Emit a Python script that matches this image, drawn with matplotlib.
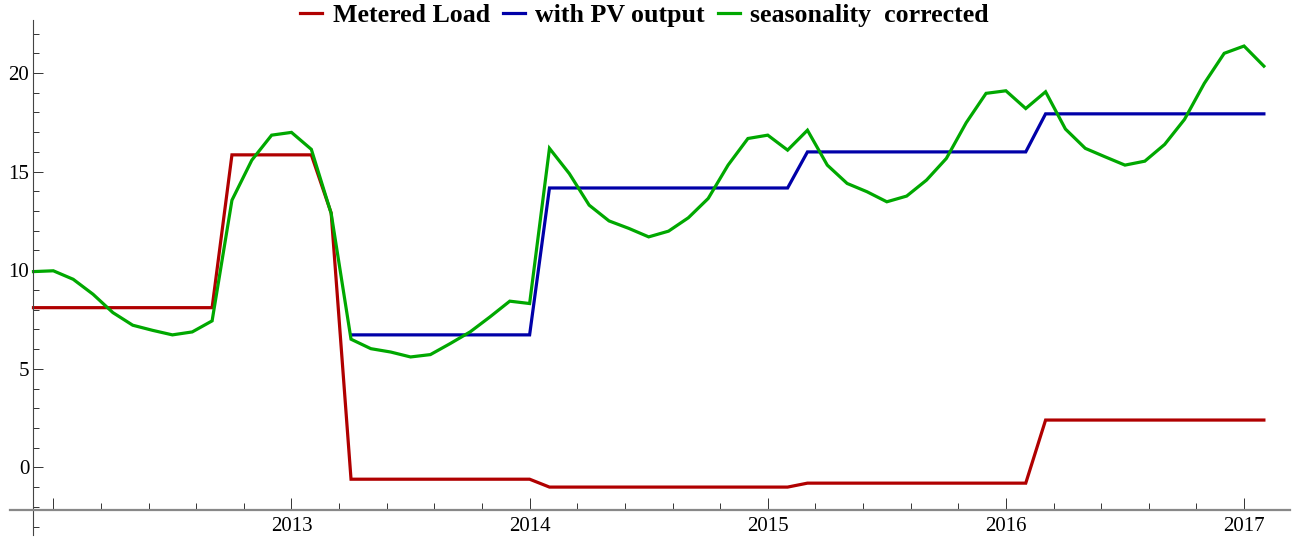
import numpy as np
import pandas as pd
import matplotlib
matplotlib.use("Agg")
import matplotlib.pyplot as plt
from matplotlib.ticker import FixedLocator, MultipleLocator

# monthly series, Dec 2011 .. Feb 2017
months = pd.date_range("2011-12-01", periods=63, freq="MS")
x = months.year + (months.month - 1) / 12.0

metered = ([8.1] * 10 + [15.85] * 5 + [12.9] + [-0.6] * 10 + [-1.0] * 13
           + [-0.8] * 12 + [2.4] * 12)
with_pv = ([np.nan] * 16 + [6.72] * 10 + [14.17] * 13 + [16.0] * 12
           + [17.93] * 12)
seasonal = [9.93, 9.97, 9.54, 8.78, 7.85, 7.21, 6.95, 6.72, 6.87, 7.43,
            13.55, 15.58, 16.85, 16.99, 16.13, 12.88, 6.5, 6.02, 5.85, 5.6,
            5.72, 6.28, 6.87, 7.63, 8.43, 8.31, 16.18, 14.9, 13.3, 12.5,
            12.12, 11.69, 11.98, 12.66, 13.64, 15.33, 16.68, 16.85, 16.09,
            17.1, 15.33, 14.4, 13.98, 13.47, 13.76, 14.57, 15.67, 17.48,
            18.97, 19.1, 18.2, 19.05, 17.16, 16.18, 15.75, 15.33, 15.53,
            16.38, 17.65, 19.48, 21.0, 21.37, 20.35]

labels = ["Metered Load", "with PV output", "seasonality  corrected"]
colors = ["#b00000", "#0000a8", "#00a800"]

year_ticks = [2012, 2013, 2014, 2015, 2016, 2017]
year_labels = ["", "2013", "2014", "2015", "2016", "2017"]

W, H = 1308, 538
fig = plt.figure(figsize=(W / 100, H / 100), dpi=100)
ax = fig.add_axes([10 / W, 3 / H, 1280 / W, 515 / H])

for vals, c, lab in zip([metered, with_pv, seasonal], colors, labels):
    ax.plot(x, vals, color=c, lw=2.3, label=lab, solid_joinstyle="miter")

ax.set_xlim(2011.818, 2017.193)
ax.set_ylim(-3.43, 22.69)

for s in ["top", "right"]:
    ax.spines[s].set_visible(False)
ax.spines["left"].set_position(("data", x[0]))
ax.spines["bottom"].set_position(("data", -2.18))
ax.spines["left"].set_color("#444444")
ax.spines["left"].set_linewidth(0.8)
ax.spines["bottom"].set_color("#888888")
ax.spines["bottom"].set_linewidth(1.6)

ax.xaxis.set_major_locator(FixedLocator(year_ticks))
ax.set_xticklabels(year_labels)
ax.xaxis.set_minor_locator(MultipleLocator(0.2))
ax.yaxis.set_major_locator(MultipleLocator(5))
ax.yaxis.set_minor_locator(MultipleLocator(1))

ax.tick_params(axis="x", which="major", direction="in", length=8.5, width=0.7,
               color="#333333", pad=5)
ax.tick_params(axis="x", which="minor", direction="in", length=5, width=0.7,
               color="#333333")
ax.tick_params(axis="y", which="major", direction="in", length=7, width=0.7,
               color="#333333", pad=3)
ax.tick_params(axis="y", which="minor", direction="in", length=4.6, width=0.7,
               color="#333333")
for t in ax.get_xticklabels() + ax.get_yticklabels():
    t.set_fontfamily("Liberation Serif")
    t.set_fontsize(15)

fig.legend(loc="center", bbox_to_anchor=(644.5 / W, 1 - 15.5 / H), ncol=3,
           frameon=False, handlelength=0.85, handletextpad=0.4,
           columnspacing=0.5, borderpad=0,
           prop={"family": "Liberation Serif", "weight": "bold", "size": 18.6})

fig.savefig("out.png", dpi=100)
